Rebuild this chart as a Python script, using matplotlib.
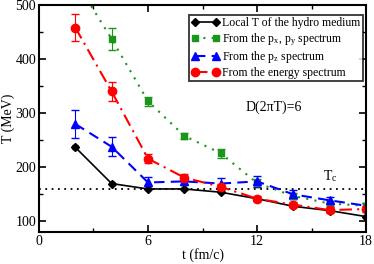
import matplotlib
matplotlib.use("Agg")
import matplotlib.pyplot as plt
from matplotlib.ticker import MultipleLocator
from matplotlib.lines import Line2D

plt.rcParams['font.family'] = ['Liberation Serif', 'DejaVu Serif']
plt.rcParams['mathtext.fontset'] = 'stix'

t = [2, 4, 6, 8, 10, 12, 14, 16, 18]
local_T = [237, 170, 160, 160, 154, 142, 128, 120, 109]
local_err = [4, 3, 2, 2, 2, 2, 2, 2, 2]

T_pxpy = [545, 437, 322, 258, 226, 171, 147, 133, 129]
err_pxpy = [20, 20, 8, 6, 8, 8, 6, 5, 5]

T_pz = [280, 238, 172, 174, 170, 174, 150, 139, 129]
err_pz = [25, 18, 10, 6, 10, 10, 8, 6, 5]

T_energy = [458, 340, 216, 181, 164, 142, 131, 121, 123]
err_energy = [25, 17, 8, 6, 6, 5, 5, 5, 5]

Tc = 160

labels = ['Local T of the hydro medium',
          'From the p$_\\mathregular{x}$, p$_\\mathregular{y}$ spectrum',
          'From the p$_\\mathregular{z}$ spectrum',
          'From the energy spectrum']

fig = plt.figure(figsize=(3.74, 2.64), dpi=100)
ax = fig.add_axes([0.104, 0.12, 0.875, 0.862])

green = '#1a961a'
styles = [
    dict(color='black', marker='D', ms=4, lw=1.2, ls='-'),
    dict(color=green, marker='s', ms=5, lw=1.5, ls=(0, (1, 3))),
    dict(color='blue', marker='^', ms=6, lw=1.5, ls=(0, (5, 3))),
    dict(color='red', marker='o', ms=6, lw=1.5, ls=(0, (6, 2.5, 1, 2.5))),
]
series = [(local_T, local_err, 2), (T_pxpy, err_pxpy, 3),
          (T_pz, err_pz, 3), (T_energy, err_energy, 3)]
for (vals, errs, cap), st in zip(series, styles):
    ax.errorbar(t, vals, yerr=errs, capsize=cap, elinewidth=0.8, **st)

ax.axhline(Tc, color='black', ls=(0, (1, 2.5)), lw=1.3)

ax.text(15.6, 176, 'T$_\\mathregular{c}$', fontsize=10)
ax.text(12.9, 305, 'D(2\u03c0T)=6', fontsize=10, ha='center')

ax.set_xlim(0, 18)
ax.set_ylim(80, 500)
ax.xaxis.set_major_locator(MultipleLocator(6))
ax.xaxis.set_minor_locator(MultipleLocator(3))
ax.yaxis.set_major_locator(MultipleLocator(100))
ax.yaxis.set_minor_locator(MultipleLocator(50))
ax.tick_params(which='both', direction='in', top=True, right=True, labelsize=10)
ax.tick_params(which='major', length=5, width=1.2)
ax.tick_params(which='minor', length=3, width=1.0)
ax.tick_params(axis='x', pad=2)
ax.tick_params(axis='y', pad=2)
for s in ax.spines.values():
    s.set_linewidth(1.5)
ax.set_xlabel('t (fm/c)', fontsize=10, labelpad=0)
ax.set_ylabel('T (MeV)', fontsize=10, labelpad=0)

handles = [Line2D([], [], **st) for st in styles]
leg = ax.legend(handles, labels, loc='upper right', bbox_to_anchor=(0.99, 0.955),
                numpoints=2, fontsize=8.5, frameon=True, fancybox=False,
                edgecolor='black', handlelength=2.4, handletextpad=0.2,
                borderpad=0.2, labelspacing=0.15, borderaxespad=0.0)
leg.get_frame().set_linewidth(1.3)

fig.savefig('out.png', dpi=100)
